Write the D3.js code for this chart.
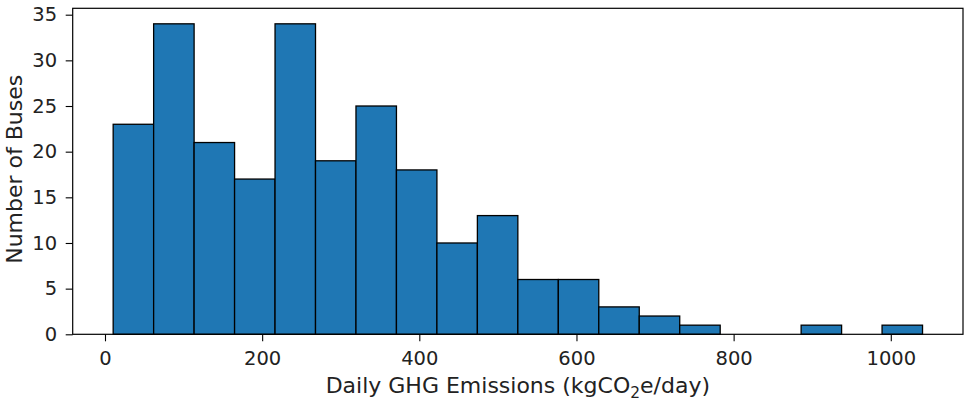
<!DOCTYPE html>
<html>
<head>
<meta charset="utf-8">
<script src="https://cdn.jsdelivr.net/npm/d3@7"></script>
<style>
  html, body { margin: 0; padding: 0; background: #fff; }
  svg { display: block; font-family: "DejaVu Sans", sans-serif; }
</style>
</head>
<body>
<svg id="chart" width="965" height="402"></svg>
<script>
// Histogram bins: edges span the observed emissions range in 20 equal steps
const binStart = 10.4;
const binEnd = 1040.4;
const binCount = 20;
const counts = [23, 34, 21, 17, 34, 19, 25, 18, 10, 13, 6, 6, 3, 2, 1, 0, 0, 1, 0, 1];
const xTicks = [0, 200, 400, 600, 800, 1000];
const yTicks = [0, 5, 10, 15, 20, 25, 30, 35];

const binWidth = (binEnd - binStart) / binCount;
const bins = counts.map((c, i) => ({
  x0: binStart + i * binWidth,
  x1: binStart + (i + 1) * binWidth,
  count: c
}));

const margin = { left: 72.7, right: 2, top: 8.3, bottom: 67.7 };
const W = 965, H = 402;
const svg = d3.select("#chart");

// 5% padding around the data, like a default plotting library
const span = binEnd - binStart;
const x = d3.scaleLinear()
  .domain([binStart - 0.05 * span, binEnd + 0.05 * span])
  .range([margin.left, W - margin.right]);
const yMax = d3.max(counts) * 1.05;
const y = d3.scaleLinear()
  .domain([0, yMax])
  .range([H - margin.bottom, margin.top]);

const tickFont = 19.5;
const labelFont = 22;

// bars
svg.append("g")
  .selectAll("rect")
  .data(bins.filter(d => d.count > 0))
  .join("rect")
  .attr("x", d => x(d.x0))
  .attr("width", d => x(d.x1) - x(d.x0))
  .attr("y", d => y(d.count))
  .attr("height", d => y(0) - y(d.count))
  .attr("fill", "#1f77b4")
  .attr("stroke", "#000")
  .attr("stroke-width", 1.3);

// axes
const xAxis = svg.append("g")
  .attr("transform", `translate(0,${H - margin.bottom})`)
  .call(d3.axisBottom(x).tickValues(xTicks).tickFormat(d3.format("d"))
    .tickSizeOuter(0).tickSize(7).tickPadding(10));
const yAxis = svg.append("g")
  .attr("transform", `translate(${margin.left},0)`)
  .call(d3.axisLeft(y).tickValues(yTicks).tickFormat(d3.format("d"))
    .tickSizeOuter(0).tickSize(7).tickPadding(8.5));

[xAxis, yAxis].forEach(g => {
  g.select(".domain").remove();
  g.selectAll("line").attr("stroke", "#000").attr("stroke-width", 1.1);
  g.selectAll("text").attr("fill", "#222")
    .style("font-family", "'DejaVu Sans', sans-serif")
    .style("font-size", tickFont + "px");
});

// frame
svg.append("rect")
  .attr("x", margin.left)
  .attr("y", margin.top)
  .attr("width", W - margin.right - margin.left)
  .attr("height", H - margin.bottom - margin.top)
  .attr("fill", "none")
  .attr("stroke", "#000")
  .attr("stroke-width", 1.2);

// axis labels
const xLabel = svg.append("text")
  .attr("x", (margin.left + W - margin.right) / 2)
  .attr("y", 393)
  .attr("text-anchor", "middle")
  .style("font-size", labelFont + "px")
  .attr("fill", "#222");
xLabel.append("tspan").text("Daily GHG Emissions (kgCO");
xLabel.append("tspan").attr("dy", 4.5).style("font-size", (labelFont * 0.7) + "px").text("2");
xLabel.append("tspan").attr("dy", -4.5).text("e/day)");

svg.append("text")
  .attr("transform", `translate(22,${(margin.top + H - margin.bottom) / 2 - 2}) rotate(-90)`)
  .attr("text-anchor", "middle")
  .style("font-size", labelFont + "px")
  .attr("fill", "#222")
  .text("Number of Buses");
</script>
</body>
</html>
